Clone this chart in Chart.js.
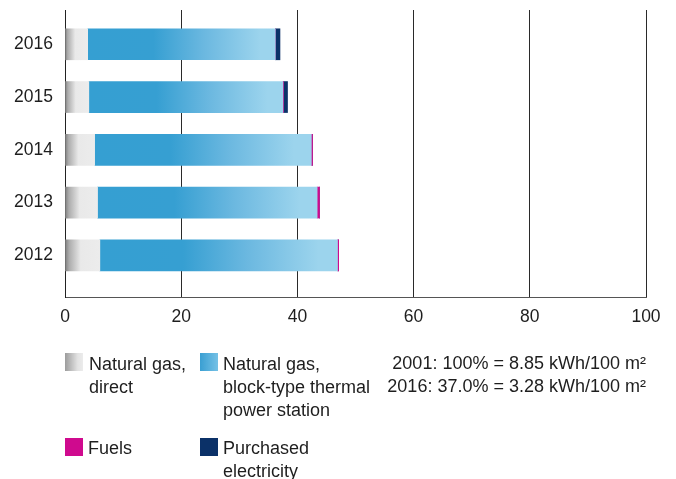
<!DOCTYPE html>
<html>
<head>
<meta charset="utf-8">
<script src="https://cdn.jsdelivr.net/npm/chart.js@4"></script>
<style>
    body { margin: 0; background: #fff; }
    #wrap { position: relative; width: 676px; height: 479px; overflow: hidden; font-family: "Liberation Sans", Arial, sans-serif; color: #1e1e1e; }
    #chart { position: absolute; left: 0; top: 0; }
    .item { position: absolute; font-size: 18px; line-height: 23px; }
    .swatch { position: absolute; width: 18px; height: 18px; }
    .note { position: absolute; right: 30px; top: 352px; font-size: 18px; line-height: 23px; text-align: right; }
</style>
</head>
<body>
<div id="wrap">
    <canvas id="chart" width="676" height="479"></canvas>

    <div class="swatch" style="left:65px; top:353px; background:linear-gradient(to right, #9c9c9c, #e2e2e2 70%, #ececec);"></div>
    <div class="item" style="left:89px; top:353px;">Natural gas,<br>direct</div>

    <div class="swatch" style="left:200px; top:353px; background:linear-gradient(to right, #3a9fd2, #75c1e6);"></div>
    <div class="item" style="left:223px; top:353px;">Natural gas,<br>block-type thermal<br>power station</div>

    <div class="note">2001: 100% = 8.85 kWh/100 m²<br>2016: 37.0% = 3.28 kWh/100 m²</div>

    <div class="swatch" style="left:65px; top:438px; background:#cf0a8e;"></div>
    <div class="item" style="left:88px; top:437px;">Fuels</div>

    <div class="swatch" style="left:200px; top:438px; background:#0b3168;"></div>
    <div class="item" style="left:223px; top:437px;">Purchased<br>electricity</div>
</div>
<script>
// values in % of 2001 level
const years = [2016, 2015, 2014, 2013, 2012];
const gasDirect = [3.9, 4.1, 5.1, 5.6, 6.0];
const gasCHP = [32.3, 33.4, 37.3, 37.8, 40.9];
const fuels = [0, 0.1, 0.2, 0.4, 0.2];
const electricity = [0.8, 0.7, 0, 0, 0];
const xTicks = [0, 20, 40, 60, 80, 100];

function points(values) {
    return years.map((y, i) => ({ x: values[i], y: y }));
}

// horizontal gradient spanning one bar segment
function barGradient(ctx, startValues, values, stops, fallback) {
    if (ctx.type !== 'data') return fallback;
    const chart = ctx.chart;
    const xs = chart.scales.x;
    if (!xs) return fallback;
    const i = ctx.dataIndex;
    const s = startValues ? startValues[i] : 0;
    const x0 = xs.getPixelForValue(s);
    const x1 = xs.getPixelForValue(s + values[i]);
    if (!isFinite(x0) || !isFinite(x1) || x1 - x0 < 1) return fallback;
    const g = chart.ctx.createLinearGradient(x0, 0, x1, 0);
    stops.forEach(st => g.addColorStop(st[0], st[1]));
    return g;
}

const grayStops = [[0, '#7c7c7c'], [0.12, '#acacac'], [0.45, '#e9e9e9'], [1, '#ececec']];
const blueStops = [[0, '#359fd2'], [0.35, '#369fd2'], [0.62, '#6bb8e0'], [0.92, '#9cd4ed'], [1, '#9cd4ed']];

const ctx = document.getElementById('chart').getContext('2d');
new Chart(ctx, {
    type: 'bar',
    data: {
        datasets: [
            {
                label: 'Natural gas, direct',
                data: points(gasDirect),
                backgroundColor: c => barGradient(c, null, gasDirect, grayStops, '#e5e5e5'),
                barThickness: 31
            },
            {
                label: 'Natural gas, block-type thermal power station',
                data: points(gasCHP),
                backgroundColor: c => barGradient(c, gasDirect, gasCHP, blueStops, '#4aa9d8'),
                barThickness: 31
            },
            {
                label: 'Fuels',
                data: points(fuels),
                backgroundColor: '#cf0a8e',
                barThickness: 31
            },
            {
                label: 'Purchased electricity',
                data: points(electricity),
                backgroundColor: '#0b3168',
                barThickness: 31
            }
        ]
    },
    options: {
        indexAxis: 'y',
        responsive: false,
        animation: false,
        events: [],
        layout: { padding: { left: 0, top: 10, right: 30, bottom: 152 } },
        plugins: {
            legend: { display: false },
            tooltip: { enabled: false }
        },
        scales: {
            x: {
                type: 'linear',
                stacked: true,
                min: 0,
                max: 100,
                afterBuildTicks: axis => { axis.ticks = xTicks.map(v => ({ value: v })); },
                afterFit: scale => { scale.height = 30; },
                grid: { color: '#2a2a2a', lineWidth: 1, drawTicks: false },
                border: { display: true, color: '#555', width: 1 },
                ticks: {
                    padding: 10,
                    color: '#1e1e1e',
                    font: { family: '"Liberation Sans", Arial, sans-serif', size: 17.5 }
                }
            },
            y: {
                type: 'linear',
                stacked: true,
                offset: false,
                min: 2011.21,
                max: 2016.65,
                afterBuildTicks: axis => { axis.ticks = years.map(v => ({ value: v })); },
                afterFit: scale => {
                    scale.width = 65;
                    scale.paddingTop = 0;
                    scale.paddingBottom = 0;
                },
                grid: { display: false, drawTicks: false, offset: false },
                border: { display: true, color: '#222', width: 1 },
                ticks: {
                    padding: 12,
                    color: '#1e1e1e',
                    callback: v => String(v),
                    font: { family: '"Liberation Sans", Arial, sans-serif', size: 17.5 }
                }
            }
        }
    }
});
</script>
</body>
</html>
